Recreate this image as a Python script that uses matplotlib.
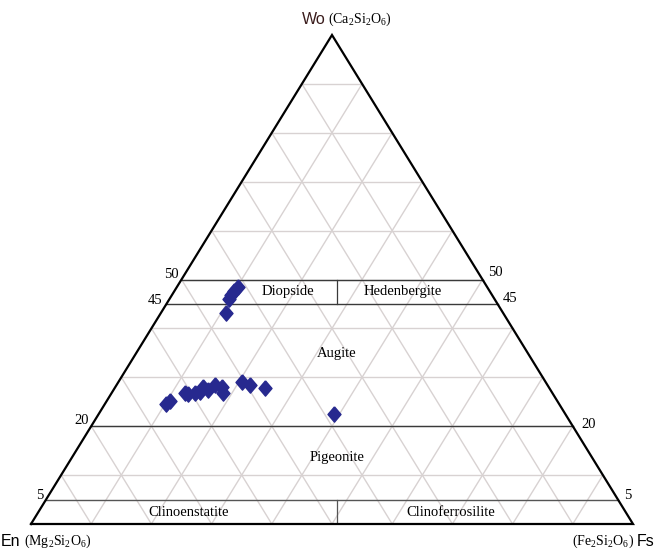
import matplotlib
matplotlib.use("Agg")
import matplotlib.pyplot as plt
from matplotlib import font_manager

# Pyroxene compositions, mol % (Wo + En + Fs = 100)
wo = [48.5, 47.7, 46.8, 46.0, 43.2,
      24.5, 25.2, 26.8, 26.6, 26.8, 26.9, 28.0, 27.4, 28.4, 28.0, 26.8, 29.0, 28.4, 27.8, 22.5]
en = [41.3, 42.4, 43.4, 44.1, 46.0,
      65.3, 64.3, 61.0, 60.6, 59.3, 58.4, 57.4, 56.9, 55.2, 54.3, 54.7, 50.5, 49.4, 47.2, 38.4]
fs = [10.2, 9.9, 9.8, 9.9, 10.8,
      10.2, 10.5, 12.2, 12.8, 13.9, 14.7, 14.6, 15.7, 16.4, 17.7, 18.5, 20.5, 22.2, 25.0, 39.1]

# Field boundaries (Wo %) and their labels
boundary_wo = [50, 45, 20, 5]
boundary_labels = ["50", "45", "20", "5"]

# Classification field names
field_names = ["Diopside", "Hedenbergite", "Augite", "Pigeonite",
               "Clinoenstatite", "Clinoferrosilite"]
field_wo = [47.5, 47.5, 34.8, 13.7, 2.3, 2.3]
field_fs = [19.0, 38.0, 33.3, 44.0, 25.0, 68.6]

names = {f.name for f in font_manager.fontManager.ttflist}
SERIF = "Liberation Serif"
SANS = "Liberation Sans Narrow" if "Liberation Sans Narrow" in names else "Liberation Sans"

plt.rcParams["font.family"] = SERIF
plt.rcParams["mathtext.fontset"] = "custom"
plt.rcParams["mathtext.rm"] = SERIF
plt.rcParams["mathtext.it"] = SERIF


def to_xy(w, f):
    """Ternary (Wo, Fs) in percent -> plane coordinates on a 0-100 base."""
    return f + w / 2.0, w


W, H = 655, 555
fig = plt.figure(figsize=(W / 100, H / 100), dpi=100)
ax = fig.add_axes([31 / W, 31 / H, 602 / W, 489 / H])
ax.set_xlim(0, 100)
ax.set_ylim(0, 100)
ax.axis("off")

grid_c = "#d8d2d2"
# 10 % grid in all three directions
for k in range(10, 100, 10):
    ax.plot([k / 2, 100 - k / 2], [k, k], color=grid_c, lw=1.0, zorder=1, clip_on=False)
    x0, y0 = to_xy(0, k)
    x1, y1 = to_xy(100 - k, k)
    ax.plot([x0, x1], [y0, y1], color=grid_c, lw=1.0, zorder=1, clip_on=False)
    x0, y0 = to_xy(0, 100 - k)
    x1, y1 = to_xy(100 - k, 0)
    ax.plot([x0, x1], [y0, y1], color=grid_c, lw=1.0, zorder=1, clip_on=False)

# Field boundaries
for w in boundary_wo:
    col = "#555555" if w == 5 else "#3a3a3a"
    ax.plot([w / 2, 100 - w / 2], [w, w], color=col, lw=1.0, zorder=2, clip_on=False)
divider_x = 50.8
ax.plot([divider_x, divider_x], [45, 50], color="#3a3a3a", lw=0.9, zorder=2)
ax.plot([divider_x, divider_x], [0, 5], color="#555555", lw=0.9, zorder=2)

# Triangle outline
ax.plot([0, 100, 50, 0], [0, 0, 100, 0], color="black", lw=1.6, zorder=3,
        clip_on=False, solid_joinstyle="miter")

# Boundary ticks on both sides
left_off = {50: (-0.5, 1.0), 45: (-0.6, 0.8), 20: (-0.4, 1.1), 5: (-0.5, 0.9)}
right_off = {50: (0.9, 1.4), 45: (0.9, 1.2), 20: (1.5, 0.3), 5: (1.0, 0.9)}
for w, lab in zip(boundary_wo, boundary_labels):
    dx, dy = left_off[w]
    ax.text(w / 2 + dx, w + dy, lab, ha="right", va="center", fontsize=10.5, zorder=4)
    dx, dy = right_off[w]
    ax.text(100 - w / 2 + dx, w + dy, lab, ha="left", va="center", fontsize=10.5, zorder=4)

# Field names
for name, w, f in zip(field_names, field_wo, field_fs):
    x, y = to_xy(w, f)
    ax.text(x, y, name, ha="center", va="center", fontsize=10.5, zorder=4)

# Analyses
xs = [f + w / 2.0 for w, f in zip(wo, fs)]
ys = list(wo)
diamond = [(0, 1), (0.85, 0), (0, -1), (-0.85, 0), (0, 1)]
ax.plot(xs, ys, linestyle="none", marker=diamond, ms=11,
        color="#27298f", mec="#27298f", zorder=5, clip_on=False)


# End-member labels
def fpos(px, py):
    return px / W, 1 - py / H


fig.text(*fpos(326, 19), "Wo", family=SANS, fontsize=11.5, color="#3a1c1c",
         ha="right", va="center")
fig.text(*fpos(328, 19), r"(Ca$_2$Si$_2$O$_6$)", fontsize=10, ha="left", va="center")

renderer = fig.canvas.get_renderer()
t_en = fig.text(*fpos(1, 541), "En", family=SANS, fontsize=11.5, ha="left", va="center")
x_after = t_en.get_window_extent(renderer).x1 + 3
fig.text(x_after / W, 1 - 541 / H, r"(Mg$_2$Si$_2$O$_6$)", fontsize=10,
         ha="left", va="center")

t_fs = fig.text(*fpos(654, 541), "Fs", family=SANS, fontsize=11.5, ha="right", va="center")
x_before = t_fs.get_window_extent(renderer).x0 - 2
fig.text(x_before / W, 1 - 541 / H, r"(Fe$_2$Si$_2$O$_6$)", fontsize=10,
         ha="right", va="center")

fig.savefig("out.png", dpi=100, facecolor="white")
